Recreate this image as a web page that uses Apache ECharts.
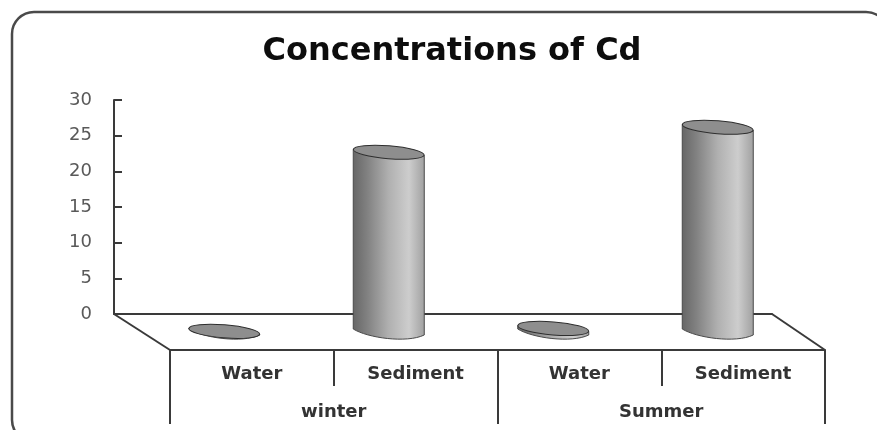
<!DOCTYPE html>
<html>
<head>
<meta charset="utf-8">
<title>Concentrations of Cd</title>
<script src="https://cdn.jsdelivr.net/npm/echarts@6/dist/echarts.min.js"></script>
<style>
  html, body { margin: 0; padding: 0; background: #fff; overflow: hidden; }
  /* 원본 이미지가 살짝 흐릿해서 맞춰줌 */
  #chart { width: 877px; height: 430px; filter: blur(0.6px); }
</style>
</head>
<body>
<div id="chart"></div>
<script>
const chartTitle = 'Concentrations of Cd';
const sampleTypes = ['Water', 'Sediment', 'Water', 'Sediment'];
const seasons = ['winter', 'Summer'];
const yTicks = { min: 0, max: 30, interval: 5 };
// 눈금은 뒷벽 기준이고 원기둥은 바닥 가운데에 서 있어서 값은 깊이만큼 보정해서 읽었다
const cdValues = [0.1, 25.2, 0.5, 28.7];

const font = '"DejaVu Sans", sans-serif';
const lineColor = '#3a3a3a';
const depth = { x: 28, y: 18 };
const cylinderWidth = 71;
const tilt = -0.08;

const chart = echarts.init(document.getElementById('chart'));

// 원기둥 하나 그리기 (옆면 + 윗면 타원)
const renderCylinder = (params, api) => {
  const index = api.value(0);
  const top = api.coord([index, api.value(1)]);
  const base = api.coord([index, 0]);
  const cx = top[0] + depth.x;
  const topY = top[1] + depth.y;
  const baseY = base[1] + depth.y;
  const rx = cylinderWidth / 2;
  const ry = 6.5;
  const slope = 3;
  const body = [
    `M ${cx - rx} ${topY - slope}`,
    `L ${cx + rx} ${topY + slope}`,
    `L ${cx + rx} ${baseY + slope}`,
    `C ${cx + rx * 0.5} ${baseY + slope + ry * 1.3} ${cx - rx * 0.6} ${baseY + ry * 0.9} ${cx - rx} ${baseY - slope}`,
    'Z'
  ].join(' ');
  return {
    type: 'group',
    children: [
      {
        type: 'path',
        shape: { pathData: body },
        style: {
          fill: new echarts.graphic.LinearGradient(0, 0, 1, 0, [
            { offset: 0, color: '#666666' },
            { offset: 0.2, color: '#818181' },
            { offset: 0.5, color: '#b0b0b0' },
            { offset: 0.78, color: '#cdcdcd' },
            { offset: 1, color: '#a0a0a0' }
          ]),
          stroke: '#4a4a4a',
          lineWidth: 1
        }
      },
      {
        type: 'ellipse',
        shape: { cx, cy: topY, rx, ry },
        rotation: tilt,
        originX: cx,
        originY: topY,
        style: { fill: '#8e8e8e', stroke: '#2e2e2e', lineWidth: 1 }
      }
    ]
  };
};

chart.setOption({
  animation: false,
  backgroundColor: '#ffffff',
  title: {
    text: chartTitle,
    left: 447,
    top: 31,
    textAlign: 'center',
    textStyle: { fontFamily: font, fontSize: 32, fontWeight: 'bold', color: '#0d0d0d' }
  },
  grid: [
    { left: 114, right: 105, top: 100, height: 214 },
    { left: 170, right: 52, top: 100, height: 250 },
    { left: 170, right: 52, top: 100, height: 250 }
  ],
  xAxis: [
    {
      gridIndex: 0,
      type: 'category',
      data: sampleTypes,
      axisLine: { lineStyle: { color: lineColor, width: 2 } },
      axisTick: { show: false },
      axisLabel: { show: false }
    },
    {
      gridIndex: 1,
      type: 'category',
      data: sampleTypes,
      position: 'bottom',
      axisLine: { lineStyle: { color: lineColor, width: 2 } },
      axisTick: { show: true, alignWithLabel: false, length: 36, lineStyle: { color: lineColor, width: 2 } },
      axisLabel: { margin: 15, interval: 0, fontFamily: font, fontSize: 18, fontWeight: 'bold', color: '#333333' }
    },
    {
      gridIndex: 2,
      type: 'category',
      data: seasons,
      position: 'bottom',
      axisLine: { show: false },
      axisTick: { show: true, alignWithLabel: false, length: 74, lineStyle: { color: lineColor, width: 2 } },
      axisLabel: { margin: 53, interval: 0, fontFamily: font, fontSize: 18, fontWeight: 'bold', color: '#333333' }
    }
  ],
  yAxis: [
    {
      gridIndex: 0,
      type: 'value',
      min: yTicks.min,
      max: yTicks.max,
      interval: yTicks.interval,
      axisLine: { show: true, lineStyle: { color: lineColor, width: 2 } },
      axisTick: { show: true, inside: true, length: 8, lineStyle: { color: lineColor, width: 2 } },
      axisLabel: { margin: 22, fontFamily: font, fontSize: 18, color: '#595959' },
      splitLine: { show: false }
    },
    { gridIndex: 1, type: 'value', show: false, splitLine: { show: false } },
    { gridIndex: 2, type: 'value', show: false, splitLine: { show: false } }
  ],
  graphic: [
    // 바깥 테두리 (오른쪽, 아래는 사진에서 잘려 있음)
    {
      type: 'rect',
      silent: true,
      z: -1,
      shape: { x: 12, y: 12, width: 876, height: 430, r: 22 },
      style: { fill: 'none', stroke: '#4a4a4a', lineWidth: 2.5 }
    },
    // 바닥 양쪽 사선
    {
      type: 'line',
      silent: true,
      shape: { x1: 114, y1: 314, x2: 170, y2: 350 },
      style: { stroke: lineColor, lineWidth: 2 }
    },
    {
      type: 'line',
      silent: true,
      shape: { x1: 772, y1: 314, x2: 825, y2: 350 },
      style: { stroke: lineColor, lineWidth: 2 }
    }
  ],
  series: [
    {
      type: 'custom',
      xAxisIndex: 0,
      yAxisIndex: 0,
      clip: false,
      z: 5,
      data: cdValues.map((value, i) => [i, value]),
      encode: { x: 0, y: 1 },
      renderItem: renderCylinder
    }
  ]
});
</script>
</body>
</html>
